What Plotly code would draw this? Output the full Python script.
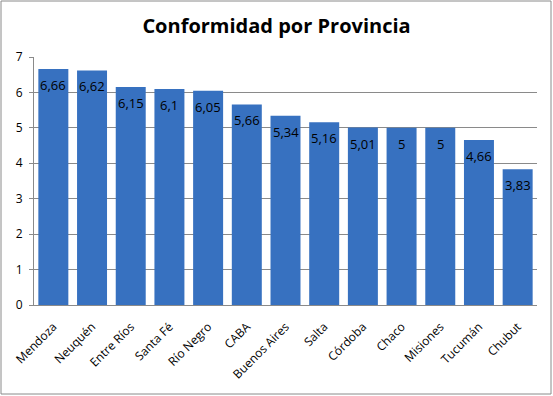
import plotly.graph_objects as go

provincias = ["Mendoza", "Neuquén", "Entre Ríos", "Santa Fé", "Río Negro", "CABA",
              "Buenos Aires", "Salta", "Córdoba", "Chaco", "Misiones", "Tucumán", "Chubut"]
valores = [6.66, 6.62, 6.15, 6.1, 6.05, 5.66, 5.34, 5.16, 5.01, 5, 5, 4.66, 3.83]
etiquetas = ["6,66", "6,62", "6,15", "6,1", "6,05", "5,66", "5,34", "5,16", "5,01", "5", "5", "4,66", "3,83"]
y_ticks = [0, 1, 2, 3, 4, 5, 6, 7]

W, H = 553, 396
L, R, T, B = 34, 16, 57, 91
pw, ph = W - L - R, H - T - B

fig = go.Figure(go.Bar(
    x=provincias, y=valores,
    marker=dict(color="#3771c0", line=dict(width=0)),
    hoverinfo="x+y",
))

annotations = [dict(x=p, y=v, text=t, xref="x", yref="y", showarrow=False,
                    yshift=-16, font=dict(family="Open Sans", size=13, color="black"))
               for p, v, t in zip(provincias, valores, etiquetas)]

fig.update_layout(
    width=W, height=H,
    margin=dict(l=L, r=R, t=T, b=B),
    paper_bgcolor="white", plot_bgcolor="white",
    bargap=0.225,
    title=dict(text="<b>Conformidad por Provincia</b>", x=0.5, xanchor="center",
               y=0.935, yanchor="middle",
               font=dict(family="Open Sans", size=20, color="black")),
    font=dict(family="Open Sans", color="black"),
    showlegend=False,
    yaxis=dict(range=[0, 7], tickvals=y_ticks, showgrid=True, gridcolor="#8a8a8a",
               gridwidth=1, showline=True, linecolor="#8a8a8a", ticks="outside",
               ticklen=4, tickcolor="#8a8a8a", tickfont=dict(size=12), zeroline=False,
               automargin=False, ticklabelstandoff=4),
    xaxis=dict(tickangle=-45, showline=True, linecolor="#8a8a8a", tickfont=dict(size=12),
               ticks="", automargin=False, ticklabelstandoff=9),
    annotations=annotations,
    shapes=[dict(type="rect", xref="paper", yref="paper",
                 x0=(1 - L) / pw, x1=(551 - L) / pw,
                 y0=-(394 - (T + ph)) / ph, y1=1 + (T - 1) / ph,
                 line=dict(color="#8a8a8a", width=1), layer="below")],
)

fig.write_html("out.html", config={"displayModeBar": False},
               post_script="document.body.style.margin='0';document.body.style.overflow='hidden';")
